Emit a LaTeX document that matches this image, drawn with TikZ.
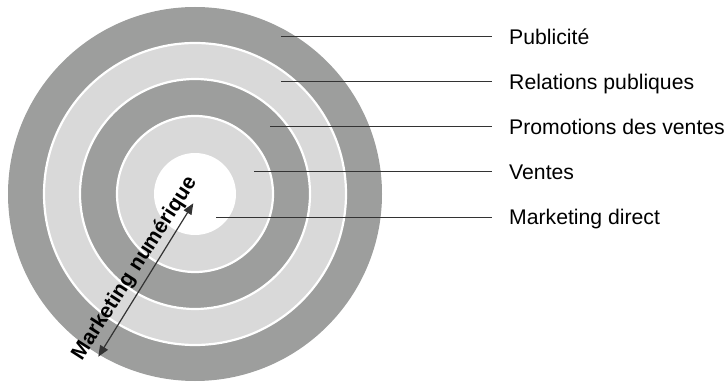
\documentclass[tikz,border=0pt]{standalone}
\usepackage{fontspec}
\setmainfont{Liberation Sans}
\usetikzlibrary{arrows.meta}
\definecolor{ringdark}{HTML}{9D9E9D}
\definecolor{ringlight}{HTML}{D9D9D9}
\definecolor{leader}{HTML}{333333}
\tikzset{
  ringd/.style={fill=ringdark, draw=white, line width=2.2pt},
  ringl/.style={fill=ringlight, draw=white, line width=2.2pt},
  lbl/.style={anchor=base west, inner sep=0pt, font=\fontsize{21.2}{25}\selectfont},
  leadline/.style={draw=leader, line width=1pt, shorten >=17pt},
  mnarrow/.style={draw=leader, line width=1.2pt, {Triangle[length=11pt,width=9pt]}-{Triangle[length=11pt,width=9pt]}}
}
\begin{document}
\begin{tikzpicture}[x=1pt,y=-1pt]
\useasboundingbox (0,0) rectangle (726,382);
\coordinate (c) at (195,194);
\fill[ringdark] (c) circle (187);
\path[ringl] (c) circle (151);
\path[ringd] (c) circle (115);
\path[ringl] (c) circle (78);
\fill[white] (c) circle (41);
% labels
\node[lbl] (l1) at (509,44.5) {Publicité};
\node[lbl] (l2) at (509,89.2) {Relations publiques};
\node[lbl] (l3) at (509,134.2) {Promotions des ventes};
\node[lbl] (l4) at (509,179.2) {Ventes};
\node[lbl] (l5) at (509,224.8) {Marketing direct};
\coordinate (p1) at (281,37);
\coordinate (p2) at (281,81.7);
\coordinate (p3) at (270,126.7);
\coordinate (p4) at (254,171.7);
\coordinate (p5) at (216,217.3);
\draw[leadline] (p1) -- ([yshift=7.5pt]l1.base west);
\draw[leadline] (p2) -- ([yshift=7.5pt]l2.base west);
\draw[leadline] (p3) -- ([yshift=7.5pt]l3.base west);
\draw[leadline] (p4) -- ([yshift=7.5pt]l4.base west);
\draw[leadline] (p5) -- ([yshift=7.5pt]l5.base west);
% arrow
\coordinate (a1) at (98.3,356.7);
\coordinate (a2) at (193.3,203.3);
\draw[mnarrow] (a1) -- (a2);
\node[anchor=base west, inner sep=0pt, rotate=57.3, font=\bfseries\fontsize{21.1}{25}\selectfont] (mn) at (81.7,361.7) {Marketing numérique};
\end{tikzpicture}
\end{document}
